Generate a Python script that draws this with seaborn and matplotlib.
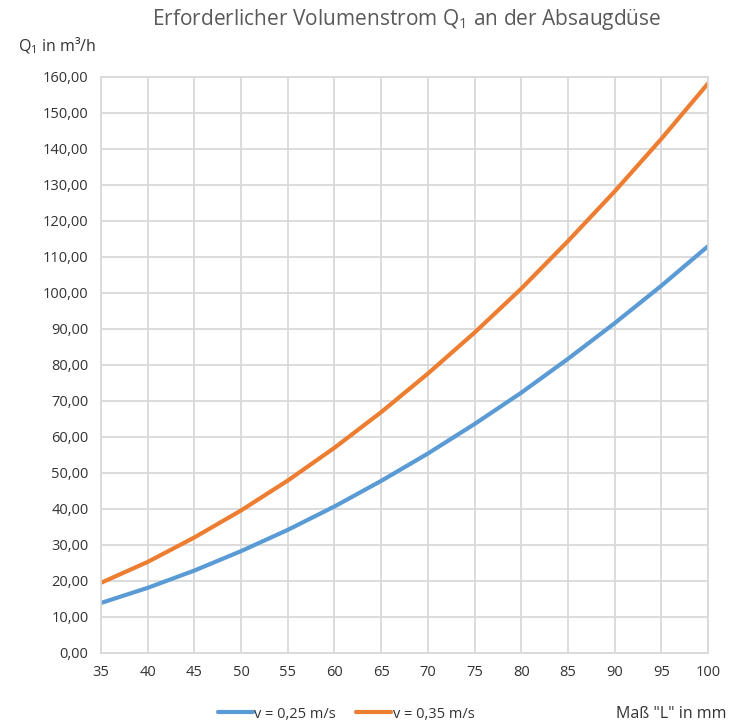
import matplotlib
matplotlib.use("Agg")
import matplotlib.pyplot as plt
from matplotlib.ticker import FuncFormatter, MultipleLocator
import pandas as pd
import seaborn as sns

# values
mass_l = [35, 40, 45, 50, 55, 60, 65, 70, 75, 80, 85, 90, 95, 100]
q_025 = [13.9, 18.1, 22.9, 28.3, 34.2, 40.7, 47.8, 55.4, 63.6, 72.3, 81.7, 91.6, 102.0, 113.0]
q_035 = [19.5, 25.3, 32.1, 39.6, 47.9, 57.0, 66.9, 77.6, 89.0, 101.2, 114.4, 128.2, 142.8, 158.2]
labels = ["v = 0,25 m/s", "v = 0,35 m/s"]
colors = ["#5b9bd5", "#ed7d31"]

df = pd.DataFrame({
    "L": mass_l * 2,
    "Q": q_025 + q_035,
    "serie": [labels[0]] * len(mass_l) + [labels[1]] * len(mass_l),
})

sns.set_style("white")
plt.rcParams["font.family"] = ["Open Sans", "DejaVu Sans"]
plt.rcParams["mathtext.fontset"] = "custom"
plt.rcParams["mathtext.rm"] = "Open Sans"
plt.rcParams["mathtext.default"] = "regular"

W, H = 729, 726
fig = plt.figure(figsize=(W / 100, H / 100), dpi=100)
ax = fig.add_axes([101 / W, 1 - 653 / H, (708 - 101) / W, (653 - 77) / H])

sns.lineplot(data=df, x="L", y="Q", hue="serie", palette=colors, linewidth=3.0,
             ax=ax, legend=False)

ax.set_xlim(35, 100)
ax.set_ylim(0, 160)
ax.xaxis.set_major_locator(MultipleLocator(5))
ax.yaxis.set_major_locator(MultipleLocator(10))
ax.yaxis.set_major_formatter(FuncFormatter(lambda v, p: f"{v:.2f}".replace(".", ",")))
ax.grid(True, color="#d9d9d9", linewidth=1.3)
ax.set_axisbelow(True)
for s in ax.spines.values():
    s.set_color("#d9d9d9")
    s.set_linewidth(1.3)
ax.tick_params(length=0, labelsize=10.5, colors="#333333", pad=9)
ax.set_xlabel("")
ax.set_ylabel("")

fig.text(407 / W, 1 - 20 / H, "Erforderlicher Volumenstrom Q$_1$ an der Absaugdüse",
         ha="center", va="center", fontsize=15, color="#595959")
fig.text(18 / W, 1 - 46 / H, "Q$_1$ in m³/h", ha="left", va="center",
         fontsize=11.5, color="#333333")
fig.text(727 / W, 1 - 714 / H, 'Maß "L" in mm', ha="right", va="center",
         fontsize=11.5, color="#333333")

handles = [plt.Line2D([], [], color=c, linewidth=3.0) for c in colors]
fig.legend(handles, labels, loc="center", bbox_to_anchor=(346 / W, 1 - 714 / H),
           ncol=2, frameon=False, fontsize=10.5, handlelength=2.4, handletextpad=0.1,
           columnspacing=1.4, labelcolor="#333333")

fig.savefig("out.png", dpi=100)
